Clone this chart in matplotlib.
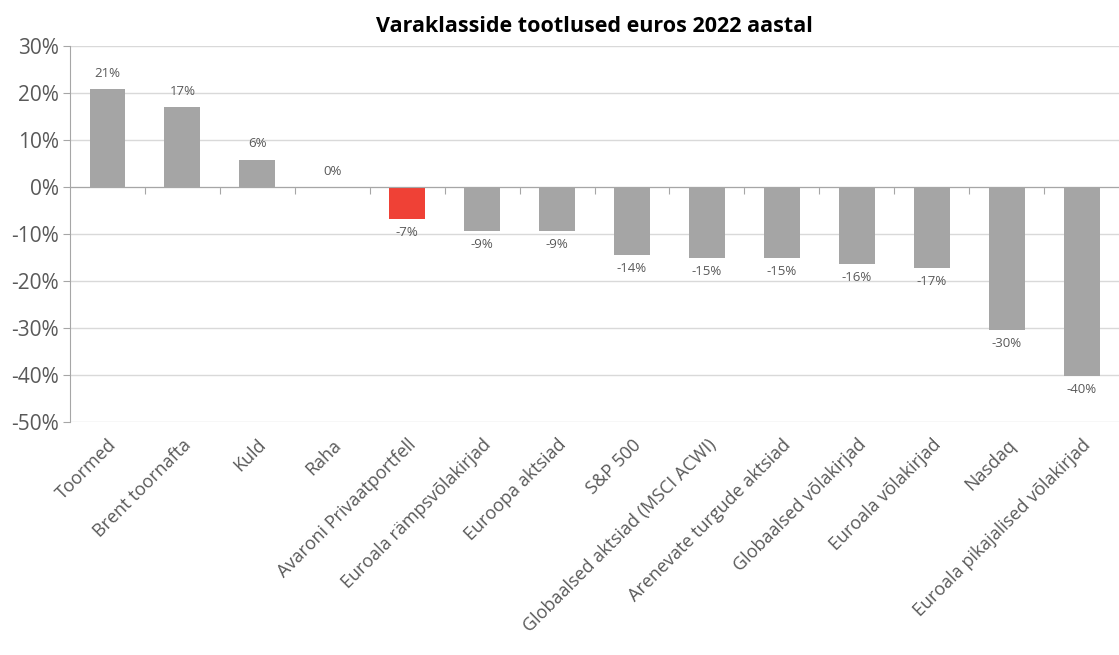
import matplotlib.pyplot as plt
import numpy as np

plt.rcParams['font.family'] = ['Open Sans', 'DejaVu Sans']

categories = ["Toormed", "Brent toornafta", "Kuld", "Raha", "Avaroni Privaatportfell",
              "Euroala rämpsvõlakirjad", "Euroopa aktsiad", "S&P 500",
              "Globaalsed aktsiad (MSCI ACWI)", "Arenevate turgude aktsiad",
              "Globaalsed võlakirjad", "Euroala võlakirjad", "Nasdaq",
              "Euroala pikajalised võlakirjad"]
returns = [20.8, 17.0, 5.8, 0.0, -6.8, -9.4, -9.4, -14.4, -15.0, -15.0, -16.3, -17.3, -30.4, -40.2]
highlight = "Avaroni Privaatportfell"

grey = "#A5A5A5"
red = "#EF4136"
txt = "#595959"

fig = plt.figure(figsize=(11.19, 6.55), dpi=100)
ax = fig.add_axes([0.0626, 0.3557, 1.0 - 0.0626, 0.9298 - 0.3557])

x = np.arange(len(categories))
colors = [red if c == highlight else grey for c in categories]
ax.bar(x, returns, width=0.48, color=colors, zorder=3)

for xi, v in zip(x, returns):
    if v >= 0:
        ax.text(xi, v + 2.0, f"{v:.0f}%", ha='center', va='bottom', fontsize=9.5, color=txt)
    else:
        ax.text(xi, v - 1.5, f"{v:.0f}%", ha='center', va='top', fontsize=9.5, color=txt)

ax.set_xlim(-0.5, len(categories) - 0.5)
ax.set_ylim(-50, 30)
ax.set_yticks(np.arange(-50, 31, 10))
ax.set_yticklabels([f"{t}%" for t in range(-50, 31, 10)], fontsize=15, color=txt)
ax.grid(axis='y', color='#D9D9D9', lw=1, zorder=0)
ax.tick_params(axis='y', length=5, color='#A6A6A6', pad=3)

for s in ['top', 'right']:
    ax.spines[s].set_visible(False)
ax.spines['left'].set_color('#A6A6A6')
ax.spines['bottom'].set_position(('data', 0))
ax.spines['bottom'].set_color('#A6A6A6')
ax.spines['bottom'].set_zorder(4)
ax.set_xticks(np.arange(0.5, len(categories) - 1, 1.0))
ax.set_xticklabels([])
ax.tick_params(axis='x', length=5, color='#A6A6A6', direction='out')

sec = ax.secondary_xaxis('bottom')
sec.set_xticks(x)
sec.set_xticklabels(categories, rotation=45, ha='right', rotation_mode='anchor',
                    fontsize=13, color=txt)
sec.tick_params(length=0, pad=10)
sec.spines['bottom'].set_visible(False)

ax.set_title("Varaklasside tootlused euros 2022 aastal", fontsize=15.5, fontweight='bold',
             color='black', pad=10)

fig.savefig("out.png", dpi=100)
